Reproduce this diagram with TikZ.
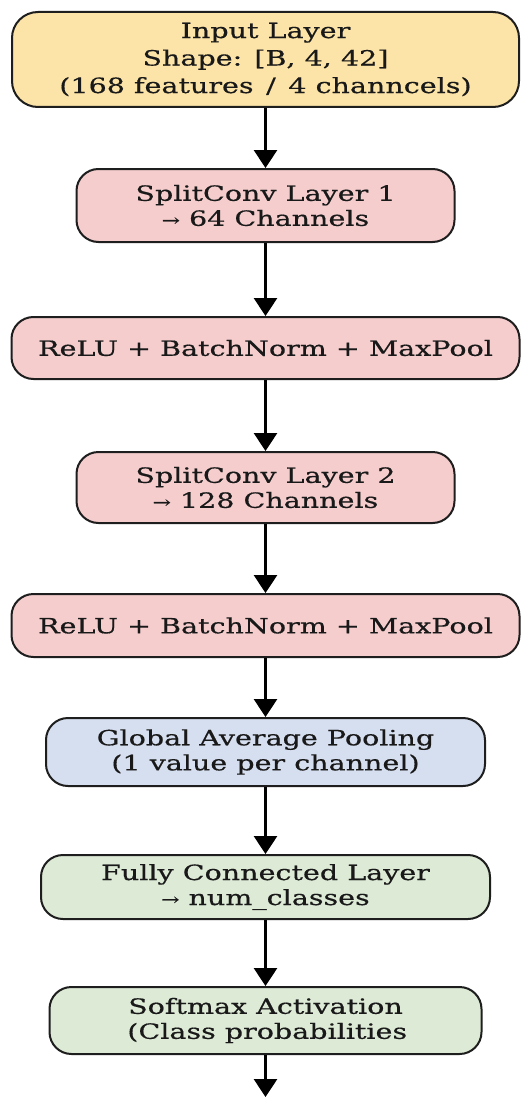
\documentclass[tikz,border=0pt]{standalone}
\usepackage{fontspec}
\setmainfont{DejaVu Serif}[FakeStretch=1.36,FakeBold=0.5]
\usetikzlibrary{arrows.meta}
\definecolor{inyellow}{RGB}{252,228,168}
\definecolor{convpink}{RGB}{245,205,205}
\definecolor{poolblue}{RGB}{214,223,240}
\definecolor{fcgreen}{RGB}{221,234,213}
\definecolor{edge}{RGB}{30,30,30}
\newcommand{\smallarr}{{\fontsize{16}{16}\selectfont →}}
\tikzset{
  layerbox/.style={draw=edge, line width=2pt, rounded corners=22pt, align=center,
    inner sep=0pt, font=\fontsize{21}{25}\selectfont, text=black!90},
  flow/.style={draw=black, line width=3pt, -{Triangle[length=18pt,width=23pt]}, shorten >=0pt}
}
\begin{document}
\begin{tikzpicture}[x=1pt,y=-1pt]
\useasboundingbox[fill=white] (0,0) rectangle (521,1097);
\node[layerbox, fill=inyellow, minimum width=507pt, minimum height=95pt, rounded corners=26pt, font=\fontsize{21}{27.5}\selectfont] (in) at (265.5,59.5)
  {Input Layer\\Shape: [B, 4, 42]\\(168 features \,/\, 4 channcels)};
\node[layerbox, fill=convpink, minimum width=378pt, minimum height=73pt] (sc1) at (265.5,205.5)
  {SplitConv Layer 1\\ \smallarr\ 64 Channels};
\node[layerbox, fill=convpink, minimum width=508pt, minimum height=62pt] (r1) at (265.5,348)
  {ReLU + BatchNorm + MaxPool};
\node[layerbox, fill=convpink, minimum width=378pt, minimum height=71pt] (sc2) at (265.5,487.5)
  {SplitConv Layer 2\\ \smallarr\ 128 Channels};
\node[layerbox, fill=convpink, minimum width=508pt, minimum height=63pt] (r2) at (265.5,625.5)
  {ReLU + BatchNorm + MaxPool};
\node[layerbox, fill=poolblue, minimum width=439pt, minimum height=68pt] (gap) at (265.5,752)
  {Global Average Pooling\\(1 value per channel)};
\node[layerbox, fill=fcgreen, minimum width=449pt, minimum height=64pt] (fc) at (265.5,887)
  {Fully Connected Layer\\ \smallarr\ num\_classes};
\node[layerbox, fill=fcgreen, minimum width=432pt, minimum height=67pt] (sm) at (265.5,1020.5)
  {Softmax Activation\\ \,(Class probabilities};
\coordinate (out) at (265.5,1097);
\draw[flow] (in) -- (sc1);
\draw[flow] (sc1) -- (r1);
\draw[flow] (r1) -- (sc2);
\draw[flow] (sc2) -- (r2);
\draw[flow] (r2) -- (gap);
\draw[flow] (gap) -- (fc);
\draw[flow] (fc) -- (sm);
\draw[flow] (sm) -- (out);
\end{tikzpicture}
\end{document}
